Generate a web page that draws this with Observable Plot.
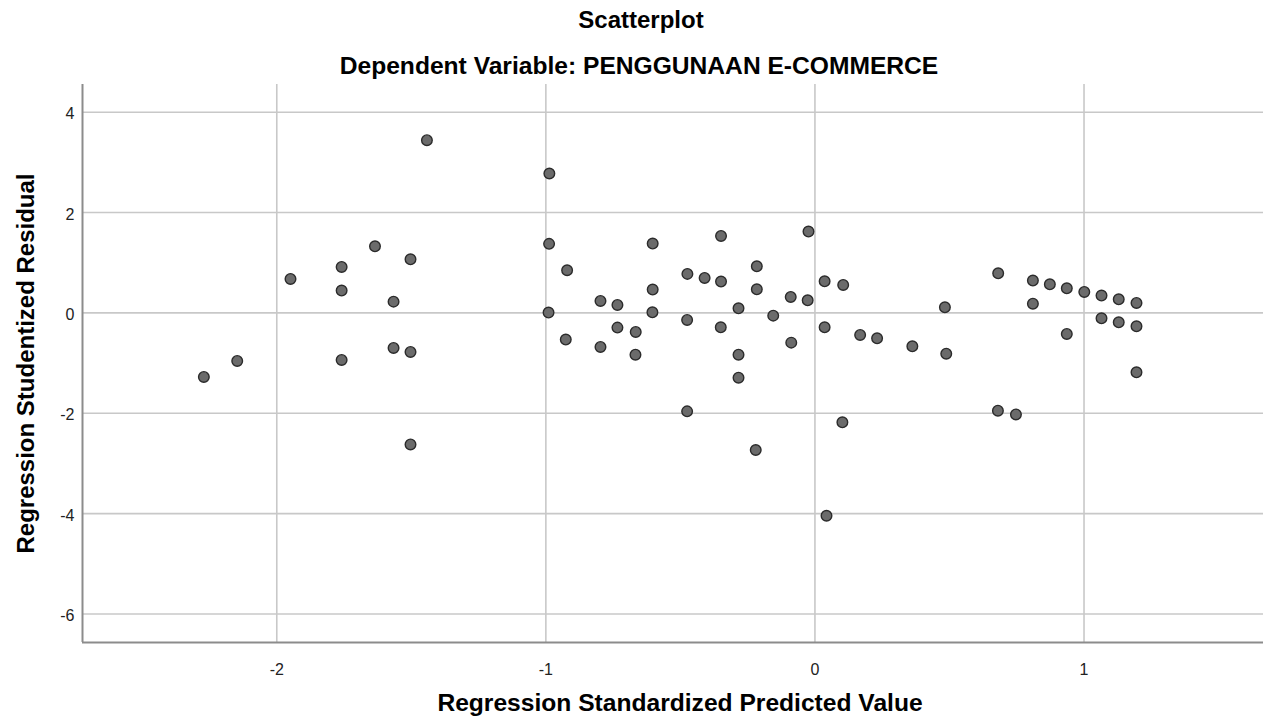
<!DOCTYPE html>
<html>
<head>
<meta charset="utf-8">
<script src="https://cdn.jsdelivr.net/npm/d3@7"></script>
<script src="https://cdn.jsdelivr.net/npm/@observablehq/plot@0.6"></script>
<style>
  html, body { margin: 0; padding: 0; background: #ffffff; }
  #chart { width: 1263px; height: 716px; }
</style>
</head>
<body>
<div id="chart"></div>
<script>
const titleText = "Scatterplot";
const subtitleText = "Dependent Variable: PENGGUNAAN E-COMMERCE";
const xLabel = "Regression Standardized Predicted Value";
const yLabel = "Regression Studentized Residual";

const xTicks = [-2, -1, 0, 1];
const yTicks = [4, 2, 0, -2, -4, -6];
const xDomain = [-2.722, 1.667];
const yDomain = [-6.568, 4.552];

const predicted = [
  -2.271, -2.147, -1.949, -1.759, -1.759, -1.759, -1.635, -1.566, -1.566, -1.503,
  -1.503, -1.503, -1.442, -0.987, -0.988, -0.990, -0.921, -0.926, -0.797, -0.797,
  -0.734, -0.734, -0.666, -0.667, -0.603, -0.603, -0.604, -0.474, -0.475, -0.475,
  -0.410, -0.349, -0.349, -0.350, -0.284, -0.284, -0.284, -0.216, -0.216, -0.220,
  -0.155, -0.090, -0.088, -0.024, -0.027, 0.036, 0.036, 0.043, 0.105, 0.102,
  0.168, 0.231, 0.362, 0.483, 0.488, 0.681, 0.680, 0.747, 0.810, 0.810,
  0.873, 0.936, 0.936, 1.001, 1.065, 1.065, 1.129, 1.129, 1.195, 1.195,
  1.195
];
const residual = [
  -1.276, -0.957, 0.678, 0.917, 0.445, -0.937, 1.328, 0.225, -0.698, 1.069,
  -0.778, -2.620, 3.442, 2.778, 1.376, 0.006, 0.850, -0.532, 0.239, -0.678,
  0.159, -0.293, -0.379, -0.832, 1.382, 0.465, 0.012, 0.778, -0.140, -1.962,
  0.698, 1.535, 0.624, -0.287, 0.092, -0.832, -1.290, 0.929, 0.471, -2.732,
  -0.054, 0.319, -0.592, 1.621, 0.251, 0.630, -0.287, -4.042, 0.558, -2.181,
  -0.439, -0.506, -0.666, 0.112, -0.812, 0.790, -1.948, -2.022, 0.644, 0.185,
  0.570, 0.491, -0.419, 0.419, 0.345, -0.108, 0.271, -0.187, 0.199, -0.267,
  -1.184
];

const data = predicted.map((p, i) => ({x: p, y: residual[i]}));

const chart = Plot.plot({
  width: 1263,
  height: 716,
  marginTop: 84,
  marginLeft: 82,
  marginRight: 0,
  marginBottom: 74,
  style: {fontFamily: "'Liberation Sans', Arial, sans-serif", background: "#ffffff", overflow: "visible"},
  x: {domain: xDomain},
  y: {domain: yDomain},
  marks: [
    Plot.gridX(xTicks, {stroke: "#c8c8c8", strokeOpacity: 1, strokeWidth: 1.6}),
    Plot.gridY(yTicks, {stroke: "#c8c8c8", strokeOpacity: 1, strokeWidth: 1.6}),
    Plot.ruleX([xDomain[0]], {stroke: "#8c8c8c", strokeWidth: 2}),
    Plot.ruleY([yDomain[0]], {stroke: "#8c8c8c", strokeWidth: 2}),
    Plot.axisX({ticks: xTicks, tickSize: 0, tickPadding: 21, fontSize: 16, fill: "#222", tickFormat: d => String(d), label: null}),
    Plot.axisY({ticks: yTicks, tickSize: 0, tickPadding: 8, fontSize: 16, fill: "#222", tickFormat: d => String(d), label: null, dy: 2}),
    Plot.dot(data, {x: "x", y: "y", r: 5.3, fill: "#6b6b6b", stroke: "#2b2b2b", strokeWidth: 1.4}),
    Plot.text([titleText], {text: d => d, frameAnchor: "top", textAnchor: "middle", lineAnchor: "bottom", dx: -32, dy: -57, fontSize: 24, fontWeight: "bold", fill: "#000"}),
    Plot.text([subtitleText], {text: d => d, frameAnchor: "top", textAnchor: "middle", lineAnchor: "bottom", dx: -34, dy: -11, fontSize: 24.6, fontWeight: "bold", fill: "#000"}),
    Plot.text([xLabel], {text: d => d, frameAnchor: "bottom", textAnchor: "middle", lineAnchor: "bottom", dx: 7, dy: 68, fontSize: 24.6, fontWeight: "bold", fill: "#000"}),
    Plot.text([yLabel], {text: d => d, frameAnchor: "left", textAnchor: "middle", lineAnchor: "bottom", rotate: -90, dx: -49, dy: 0, fontSize: 24, fontWeight: "bold", fill: "#000"})
  ]
});
document.getElementById("chart").appendChild(chart);
</script>
</body>
</html>
